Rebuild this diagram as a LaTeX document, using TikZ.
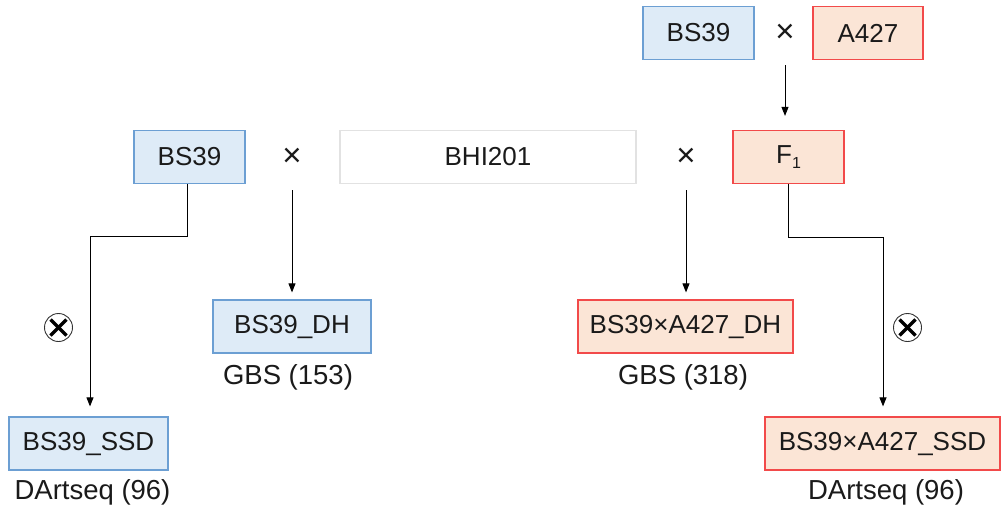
\documentclass[tikz,border=0pt]{standalone}
\usepackage{fontspec}
\setmainfont{Liberation Sans}
\usetikzlibrary{arrows.meta}
\definecolor{bfill}{HTML}{DEEBF7}
\definecolor{bdraw}{HTML}{6C9FD3}
\definecolor{rfill}{HTML}{FBE5D6}
\definecolor{rdraw}{HTML}{F24A4A}
\definecolor{gdraw}{HTML}{E2E2E2}
\definecolor{txt}{HTML}{1A1A1A}
\begin{document}
\begin{tikzpicture}[x=1pt,y=-1pt,
  font=\fontsize{26}{30}\selectfont, text=txt,
  box/.style={line width=1.2pt, minimum height=53pt, inner sep=0pt, anchor=center},
  bluebox/.style={box, draw=bdraw, fill=bfill},
  redbox/.style={box, draw=rdraw, fill=rfill},
  graybox/.style={box, draw=gdraw, fill=white},
  crossmark/.style={inner sep=0pt, font=\fontsize{33}{36}\selectfont},
  lbl/.style={inner sep=0pt, font=\fontsize{27.5}{32}\selectfont},
  conn/.style={draw=black, line width=0.9pt, -{Triangle[length=9pt,width=7pt]}},
  selfmark/.style={circle, draw=black!80, line width=0.9pt, minimum size=28pt, inner sep=0pt,
    path picture={\draw[line width=3.4pt, black] ([shift={(-8pt,-8pt)}]path picture bounding box.center) -- ([shift={(8pt,8pt)}]path picture bounding box.center);
                  \draw[line width=3.4pt, black] ([shift={(-8pt,8pt)}]path picture bounding box.center) -- ([shift={(8pt,-8pt)}]path picture bounding box.center);}}
]
\useasboundingbox (0,0) rectangle (1003,515);
\fill[white] (0,0) rectangle (1003,515);

% top row
\node[bluebox, minimum width=111pt] (bsT) at (698.5,33) {BS39};
\node[crossmark] (crT) at (785,33) {×};
\node[redbox, minimum width=110pt] (aT) at (868,33) {A427};

% middle row
\node[bluebox, minimum width=111pt] (bsM) at (189.5,157) {BS39};
\node[crossmark] (crL) at (292,157) {×};
\node[graybox, minimum width=296pt] (bhi) at (488,157) {BHI201};
\node[crossmark] (crR) at (686,157) {×};
\node[redbox, minimum width=111pt] (f1) at (788.5,157) {F\raisebox{-0.35ex}{\fontsize{16}{16}\selectfont 1}};

% DH row
\node[bluebox, minimum width=158pt] (dhL) at (292,326.5) {BS39\_DH};
\node[redbox, minimum width=215pt] (dhR) at (685.5,326.5) {BS39×A427\_DH};
\node[lbl] (gbsL) at (288,377) {GBS (153)};
\node[lbl] (gbsR) at (683,377) {GBS (318)};

% SSD row
\node[bluebox, minimum width=159pt] (ssdL) at (88.5,443.5) {BS39\_SSD};
\node[redbox, minimum width=235pt] (ssdR) at (882.5,443.5) {BS39×A427\_SSD};
\node[lbl] (dartL) at (92.5,492) {DArtseq (96)};
\node[lbl] (dartR) at (886,492) {DArtseq (96)};

% selfing marks
\node[selfmark] (sxL) at (58.5,327.5) {};
\node[selfmark] (sxR) at (907.5,327.5) {};

% connectors
\coordinate (bsMo) at (187,184);
\coordinate (f1o) at (788,184);
\coordinate (crTo) at (785,65);
\coordinate (crLo) at (292,190);
\coordinate (crRo) at (686,190);
\draw[conn, shorten >=14pt] (crTo) -- (f1.north -| crTo);
\draw[conn, shorten >=7pt] (crLo) -- (dhL.north -| crLo);
\draw[conn, shorten >=7pt] (crRo) -- (dhR.north -| crRo);
\draw[conn, shorten >=10pt] (bsMo) -- ++(0,52) -| ([xshift=1.5pt]ssdL.north);
\draw[conn, shorten >=10pt] (f1o) -- ++(0,53) -| ([xshift=0.5pt]ssdR.north);
\end{tikzpicture}
\end{document}
